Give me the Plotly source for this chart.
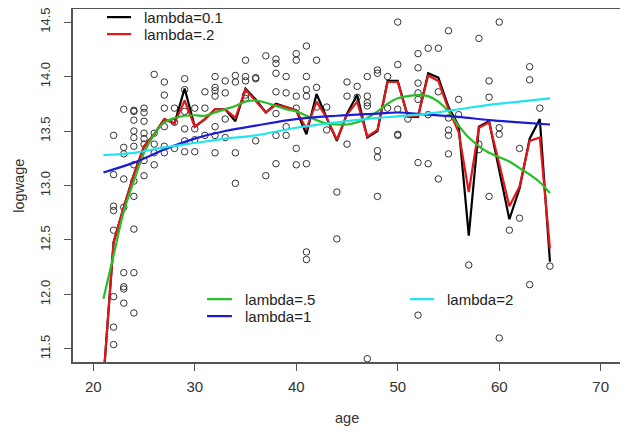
import plotly.graph_objects as go

# scatter data: age, logwage
age = (
    [22] * 8 + [23] * 9 + [24] * 12 + [25] * 8 + [26] * 5 + [27] * 6 + [28] * 3
    + [29] * 6 + [30] * 4 + [31] * 3 + [32] * 7 + [33] * 4 + [34] * 4 + [35] * 5
    + [36] * 3 + [37] * 2 + [38] * 7 + [39] * 4 + [40] * 6 + [41] * 7 + [42] * 3
    + [43] * 2 + [44] * 2 + [45] * 3 + [46] * 2 + [47] * 5 + [48] * 5 + [49] * 2
    + [50] * 5 + [51] * 1 + [52] * 7 + [53] * 3 + [54] * 3 + [55] * 5 + [56] * 2
    + [57] * 1 + [58] * 3 + [59] * 3 + [60] * 4 + [61] * 1 + [62] * 2 + [63] * 3
    + [64] * 1 + [65] * 1
)
logwage = [
    13.46, 13.10, 12.81, 12.77, 12.59, 11.98, 11.70, 11.54,
    13.70, 13.35, 13.29, 13.06, 12.80, 12.20, 12.07, 12.05, 11.92,
    13.69, 13.68, 13.60, 13.50, 13.44, 13.36, 13.19, 13.04, 12.90, 12.60, 12.20, 11.83,
    13.71, 13.67, 13.59, 13.48, 13.43, 13.38, 13.23, 13.09,
    14.02, 13.48, 13.38, 13.30, 13.19,
    13.95, 13.83, 13.71, 13.54, 13.36, 13.30,
    13.71, 13.58, 13.34,
    13.98, 13.88, 13.68, 13.52, 13.41, 13.31,
    13.71, 13.52, 13.42, 13.31,
    13.86, 13.71, 13.46,
    14.00, 13.90, 13.87, 13.82, 13.54, 13.46, 13.30,
    13.96, 13.85, 13.61, 13.44,
    14.01, 13.95, 13.30, 13.02,
    14.15, 14.00, 13.96, 13.83, 13.80,
    13.99, 13.98, 13.41,
    14.19, 13.09,
    14.16, 14.12, 14.03, 13.86, 13.66, 13.46, 13.20,
    14.00, 13.85, 13.54, 13.46,
    14.21, 14.15, 13.82, 13.71, 13.34, 13.19,
    14.28, 14.00, 13.88, 13.82, 13.20, 12.39, 12.32,
    14.15, 13.90, 13.72,
    13.72, 13.51,
    12.94, 12.51,
    13.95, 13.82, 13.38,
    13.91, 13.81,
    14.00, 13.82, 13.76, 13.73, 11.41,
    14.06, 14.03, 13.32, 13.26, 12.90,
    14.00, 13.71,
    14.50, 14.11, 13.70, 13.47, 13.46,
    13.61,
    14.21, 14.08, 13.94, 13.85, 13.79, 13.21, 11.81,
    14.26, 13.65, 13.20,
    14.26, 13.86, 13.06,
    14.42, 13.62, 13.51, 13.46, 13.29,
    13.79, 13.65,
    12.27,
    14.35, 13.38, 13.33,
    13.96, 13.81, 12.90,
    14.50, 13.53, 13.47, 11.60,
    12.59,
    13.34, 12.70,
    14.09, 13.97, 12.09,
    13.71,
    12.26,
]

# fitted curves
fit_age = list(range(21, 66))
fit_01 = [
    11.22, 12.48, 12.80, 13.10, 13.36, 13.47, 13.61, 13.57, 13.89, 13.54,
    13.61, 13.70, 13.70, 13.59, 13.89, 13.79, 13.67, 13.75, 13.72, 13.69,
    13.47, 13.84, 13.62, 13.41, 13.66, 13.83, 13.44, 13.50, 13.96, 13.96,
    13.63, 13.63, 14.03, 13.99, 13.72, 13.55, 12.54, 13.54, 13.59, 13.15,
    12.69, 12.97, 13.43, 13.61, 12.30,
]
fit_02 = [
    11.22, 12.48, 12.80, 13.10, 13.36, 13.47, 13.61, 13.57, 13.78, 13.54,
    13.61, 13.70, 13.70, 13.62, 13.88, 13.78, 13.67, 13.74, 13.72, 13.69,
    13.52, 13.77, 13.62, 13.42, 13.65, 13.77, 13.45, 13.51, 13.95, 13.95,
    13.63, 13.64, 14.01, 13.96, 13.70, 13.49, 12.94, 13.53, 13.58, 13.20,
    12.81, 12.99, 13.41, 13.44, 12.42,
]
fit_05 = [
    11.96, 12.36, 12.76, 13.04, 13.30, 13.47, 13.58, 13.62, 13.64, 13.645,
    13.64, 13.67, 13.70, 13.73, 13.77, 13.78, 13.76, 13.73, 13.70, 13.68,
    13.64, 13.60, 13.57, 13.56, 13.56, 13.58, 13.62, 13.68, 13.75, 13.80,
    13.82, 13.83, 13.82, 13.77, 13.68, 13.55, 13.44, 13.36, 13.30, 13.26,
    13.22, 13.16, 13.10, 13.03, 12.93,
]
smooth_age = [21, 24, 27, 30, 33, 36, 40, 44, 48, 50, 53, 56, 59, 62, 65]
fit_1 = [13.12, 13.21, 13.33, 13.43, 13.50, 13.55, 13.61, 13.64, 13.66, 13.67,
         13.65, 13.63, 13.60, 13.58, 13.56]
fit_2 = [13.28, 13.30, 13.35, 13.39, 13.43, 13.46, 13.53, 13.58, 13.62, 13.635,
         13.66, 13.70, 13.74, 13.77, 13.80]

FONT = "Liberation Sans, Arial, sans-serif"
TEXT = "#333333"

fig = go.Figure()
fig.add_trace(go.Scatter(
    x=age, y=logwage, mode="markers", showlegend=False, hoverinfo="skip",
    marker={"symbol": "circle-open", "size": 6.5, "color": "#333333", "line": {"width": 1}},
))

# name, colour, line shape, legend line x0/x1, text x, row y (paper coords)
curves = [
    (fit_age, fit_01, "lambda=0.1", "#000000", "linear", 0.062, 0.106, 0.126, 0.977),
    (fit_age, fit_02, "lambda=.2", "#e3161b", "linear", 0.062, 0.106, 0.126, 0.929),
    (fit_age, fit_05, "lambda=.5", "#26bd26", "spline", 0.2445, 0.290, 0.310, 0.178),
    (smooth_age, fit_1, "lambda=1", "#1c1cd4", "spline", 0.2445, 0.290, 0.310, 0.130),
    (smooth_age, fit_2, "lambda=2", "#20e4ee", "spline", 0.615, 0.659, 0.679, 0.178),
]
for xs, ys, name, color, shape, lx0, lx1, tx, ty in curves:
    fig.add_trace(go.Scatter(
        x=xs, y=ys, mode="lines", name=name, showlegend=False,
        line={"color": color, "width": 2.2, "shape": shape},
    ))
    # legend key drawn by hand (R legend with bty="n")
    fig.add_shape(type="line", xref="paper", yref="paper", x0=lx0, x1=lx1, y0=ty, y1=ty,
                  line={"color": color, "width": 2.2})
    fig.add_annotation(text=name, xref="paper", yref="paper", x=tx, y=ty,
                       xanchor="left", yanchor="middle", showarrow=False,
                       font={"size": 15, "color": "#222222"})

axis_common = dict(
    showgrid=False, zeroline=False, showline=True, mirror=True, automargin=False,
    linecolor="#555555", linewidth=1.5, ticks="outside", ticklen=7,
    tickcolor="#555555", tickwidth=1.2, ticklabeloverflow="allow",
)
# the page body adds an 8px offset, so margins are shifted by 8px
fig.update_layout(
    width=628, height=432,
    margin={"l": 65, "r": 15, "t": 1, "b": 78, "autoexpand": False},
    paper_bgcolor="white", plot_bgcolor="white",
    font={"family": FONT, "color": TEXT},
    xaxis=dict(axis_common, range=[18, 72], tickvals=[20, 30, 40, 50, 60, 70],
               ticklabelstandoff=3, tickfont={"size": 15, "color": TEXT}),
    yaxis=dict(axis_common, range=[11.38, 14.62],
               tickvals=[11.5, 12.0, 12.5, 13.0, 13.5, 14.0, 14.5],
               tickformat=".1f", tickangle=-90, ticklabelstandoff=9,
               tickfont={"size": 13, "color": TEXT}),
)
fig.add_annotation(text="age", xref="paper", yref="paper", x=0.5, y=-0.158,
                   xanchor="center", yanchor="middle", showarrow=False,
                   font={"size": 14.5, "color": TEXT})
fig.add_annotation(text="logwage", xref="paper", yref="paper", x=-0.1, y=0.5,
                   xanchor="center", yanchor="middle", showarrow=False, textangle=-90,
                   font={"size": 14.5, "color": TEXT})
fig.write_html("out.html")
